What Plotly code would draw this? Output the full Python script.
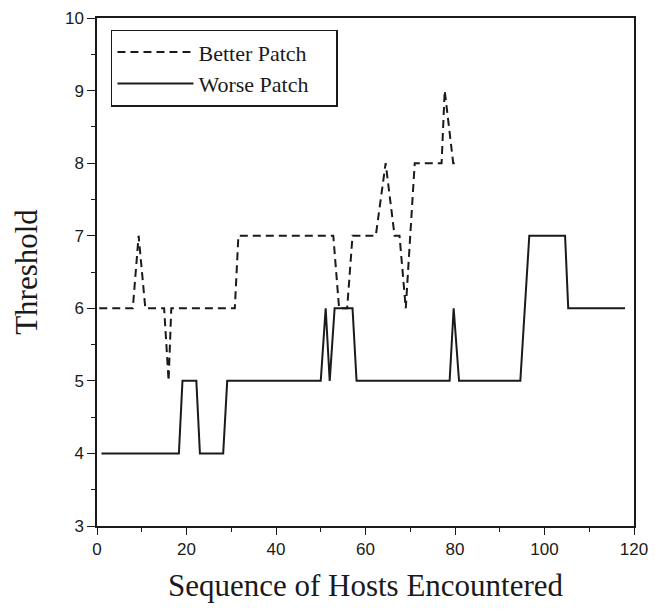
import plotly.graph_objects as go

# Data
better_x = [0.5, 8, 9.3, 10.8, 15, 16, 16.6, 30.8, 31.6, 52.8, 54.1, 55.9, 57.1,
            62.3, 64.5, 66.5, 67.6, 69, 71, 77, 77.7, 79.6, 81]
better_y = [6, 6, 7, 6, 6, 5, 6, 6, 7, 7, 6, 6, 7,
            7, 8, 7, 7, 6, 8, 8, 9, 8, 8]

worse_x = [1, 18.3, 19.1, 22.2, 23, 28.2, 29.1, 50, 51.1, 52, 53.1, 57.1, 58,
           78.8, 79.7, 80.9, 94.6, 96.6, 104.6, 105.3, 118]
worse_y = [4, 4, 5, 5, 4, 4, 5, 5, 6, 5, 6, 6, 5,
           5, 6, 5, 5, 7, 7, 6, 6]

x_ticks = [0, 20, 40, 60, 80, 100, 120]
y_ticks = [3, 4, 5, 6, 7, 8, 9, 10]

INK = "#1a1a1a"
SERIF = "Liberation Serif, Times New Roman, serif"
SANS = "Liberation Sans, Arial, sans-serif"
PAD = "\u00a0" * 4

fig = go.Figure()
fig.add_trace(go.Scatter(x=better_x, y=better_y, mode="lines", name="Better Patch" + PAD,
                         line=dict(color=INK, width=2, dash="8px,5px")))
fig.add_trace(go.Scatter(x=worse_x, y=worse_y, mode="lines", name="Worse Patch" + PAD,
                         line=dict(color=INK, width=2)))

axis_common = dict(showline=True, linecolor=INK, linewidth=1.5, mirror=True,
                   ticks="outside", tickcolor=INK, tickwidth=1.2,
                   showgrid=False, zeroline=False, automargin=False,
                   tickfont=dict(family=SANS, size=17, color=INK))

fig.update_xaxes(range=[0, 120], tickvals=x_ticks, ticklen=7,
                 minor=dict(dtick=10, ticks="outside", ticklen=4, tickcolor=INK),
                 title=dict(text="Sequence of Hosts Encountered", standoff=30,
                            font=dict(family=SERIF, size=31, color=INK)),
                 **axis_common)
fig.update_yaxes(range=[3, 10], tickvals=y_ticks, ticklen=8,
                 minor=dict(dtick=0.5, ticks="outside", ticklen=4, tickcolor=INK),
                 title=dict(text="Threshold", standoff=18,
                            font=dict(family=SERIF, size=31, color=INK)),
                 **axis_common)

fig.update_layout(
    width=650, height=595,
    margin=dict(l=89, r=24, t=10, b=77),
    plot_bgcolor="white", paper_bgcolor="white",
    showlegend=True,
    legend=dict(x=0.026, y=0.977, xanchor="left", yanchor="top",
                bgcolor="white", bordercolor=INK, borderwidth=1.5,
                font=dict(family=SERIF, size=22, color=INK),
                itemwidth=76, tracegroupgap=0),
)

fig.write_html("out.html")
